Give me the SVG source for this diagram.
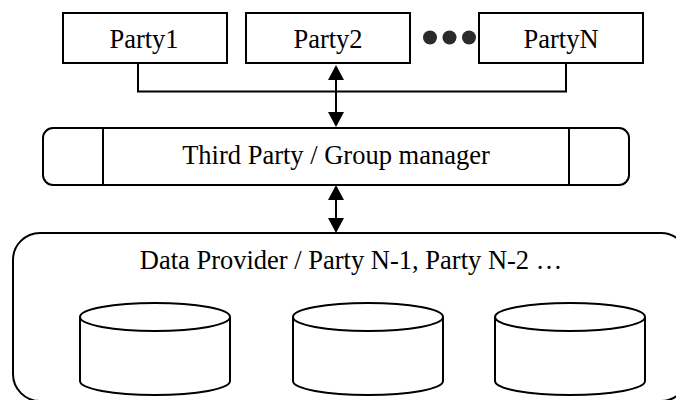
<svg xmlns="http://www.w3.org/2000/svg" width="676" height="400" viewBox="0 0 676 400">
<style>
.box{fill:#fff;stroke:#000;stroke-width:2}
.ln{fill:none;stroke:#000;stroke-width:2}
.t{font-family:"Liberation Serif","Times New Roman",serif;font-size:26.5px;fill:#000;text-anchor:middle}
.dot{fill:#2b2b2b}
</style>
<defs>
<marker id="ah" viewBox="0 0 15 16" refX="0" refY="8" markerWidth="15" markerHeight="16" markerUnits="userSpaceOnUse" orient="auto-start-reverse">
<path d="M0,0 L15,8 L0,16 z" fill="#000"/>
</marker>
</defs>
<rect width="676" height="400" fill="#fff"/>
<g id="party1"><rect class="box" x="63" y="13" width="164" height="50"/><text class="t" x="144" y="48">Party1</text></g>
<g id="party2"><rect class="box" x="246" y="13" width="164" height="50"/><text class="t" x="328" y="48">Party2</text></g>
<g id="dots"><circle class="dot" cx="430" cy="37.5" r="7"/><circle class="dot" cx="449.5" cy="37.5" r="7"/><circle class="dot" cx="469" cy="37.5" r="7"/></g>
<g id="partyN"><rect class="box" x="479" y="13" width="164" height="50"/><text class="t" x="561" y="48">PartyN</text></g>
<g id="manager"><rect class="box" x="43" y="128" width="586" height="57" rx="10"/><line class="ln" x1="103" y1="128" x2="103" y2="185"/><line class="ln" x1="569" y1="128" x2="569" y2="185"/><text class="t" x="336" y="164">Third Party / Group manager</text></g>
<g id="provider"><rect class="box" x="13" y="233" width="675" height="168" rx="27"/><text class="t" x="351" y="269">Data Provider / Party N-1, Party N-2 …</text>
<g id="db1"><path class="box" d="M80,317 L80,381 A75,14 0 0 0 230,381 L230,317"/><ellipse class="box" cx="155" cy="317" rx="75" ry="14"/></g>
<g id="db2"><path class="box" d="M293,317 L293,381 A75,14 0 0 0 443,381 L443,317"/><ellipse class="box" cx="368" cy="317" rx="75" ry="14"/></g>
<g id="db3"><path class="box" d="M495,317 L495,381 A75,14 0 0 0 645,381 L645,317"/><ellipse class="box" cx="570" cy="317" rx="75" ry="14"/></g>
</g>
<g id="connectors">
<polyline class="ln" points="138,63 138,91.5 566,91.5 566,63"/>
<line class="ln" x1="336" y1="80" x2="336" y2="112" marker-start="url(#ah)" marker-end="url(#ah)"/>
<line class="ln" x1="336" y1="200" x2="336" y2="218" marker-start="url(#ah)" marker-end="url(#ah)"/>
</g>
</svg>
